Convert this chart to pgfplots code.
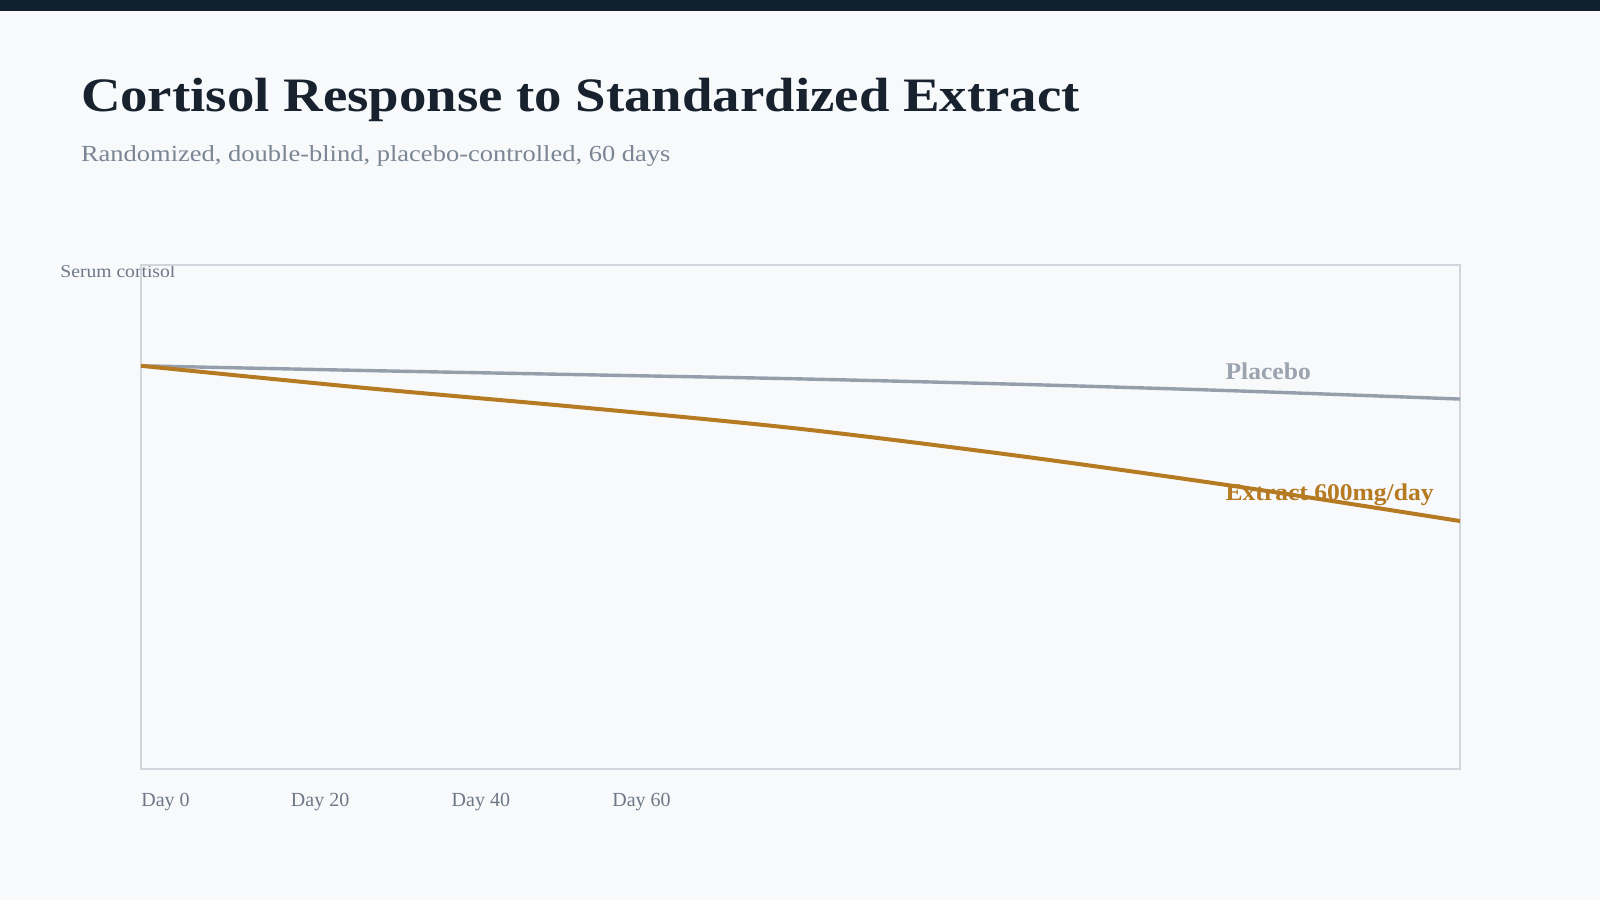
\documentclass[border=0pt]{standalone}
\usepackage{pgfplots}
\pgfplotsset{compat=1.18}
\usepackage{fontspec}
\setmainfont{Liberation Serif}
\newfontfamily\titlefont[FakeStretch=1.142]{Liberation Serif}
\newfontfamily\subfont[FakeStretch=1.152]{Liberation Serif}
\newfontfamily\ylabfont[FakeStretch=1.09]{Liberation Serif}
\newfontfamily\labfont[FakeStretch=1.065]{Liberation Serif}
\definecolor{bg}{HTML}{F7F9FB}
\definecolor{topbar}{HTML}{10202F}
\definecolor{titlec}{HTML}{18222F}
\definecolor{subc}{HTML}{7B8594}
\definecolor{tickc}{HTML}{6E7887}
\definecolor{framec}{HTML}{D1D6DC}
\definecolor{placebo}{HTML}{959FAB}
\definecolor{placebolab}{HTML}{9AA3AE}
\definecolor{extract}{HTML}{B67A22}
\pgfplotstableread{
day placebo extract
0   20.00   20.00
10  19.77   18.92
20  19.56   17.94
30  19.35   16.87
40  19.08   15.52
50  18.75   13.99
60  18.35   12.30
}\datatab
\begin{document}
\begin{tikzpicture}
\fill[bg] (0,0) rectangle (800pt,450pt);
\fill[topbar] (0,444.5pt) rectangle (800pt,450pt);
\node[anchor=base west, inner sep=0pt, text=titlec, font=\titlefont\fontsize{24pt}{28pt}\selectfont\bfseries] at (40.3pt,394pt) {Cortisol Response to Standardized Extract};
\node[anchor=base west, inner sep=0pt, text=subc, font=\subfont\fontsize{11.5pt}{14pt}\selectfont] at (40.3pt,369pt) {Randomized, double-blind, placebo-controlled, 60 days};
\node[anchor=base west, inner sep=0pt, text=tickc, font=\ylabfont\fontsize{9pt}{11pt}\selectfont] at (30pt,311pt) {Serum cortisol};
\begin{axis}[
  at={(70.5pt,65.5pt)}, anchor=south west,
  scale only axis, width=659.5pt, height=252pt,
  xmin=0, xmax=60, ymin=0, ymax=25,
  axis line style={draw=framec, line width=0.8pt},
  ytick=\empty,
  xtick={0,6.805,14.115,21.425},
  xticklabels={Day 0,Day 20,Day 40,Day 60},
  major tick length=0pt,
  xticklabel style={anchor=base west, inner sep=0pt, yshift=-18.85pt, text=tickc, font=\fontsize{10pt}{12pt}\selectfont},
  clip=false,
]
\node[anchor=base west, inner sep=0pt, text=placebolab, font=\labfont\fontsize{12pt}{14pt}\selectfont\bfseries] at (axis cs:49.32,19.33) {Placebo};
\node[anchor=base west, inner sep=0pt, text=extract, font=\labfont\fontsize{12pt}{14pt}\selectfont\bfseries] at (axis cs:49.32,13.34) {Extract 600mg/day};
\addplot[placebo, line width=1.7pt, no marks, smooth] table[x=day, y=placebo] {\datatab};
\addplot[extract, line width=2pt, no marks, smooth] table[x=day, y=extract] {\datatab};
\end{axis}
\end{tikzpicture}
\end{document}
